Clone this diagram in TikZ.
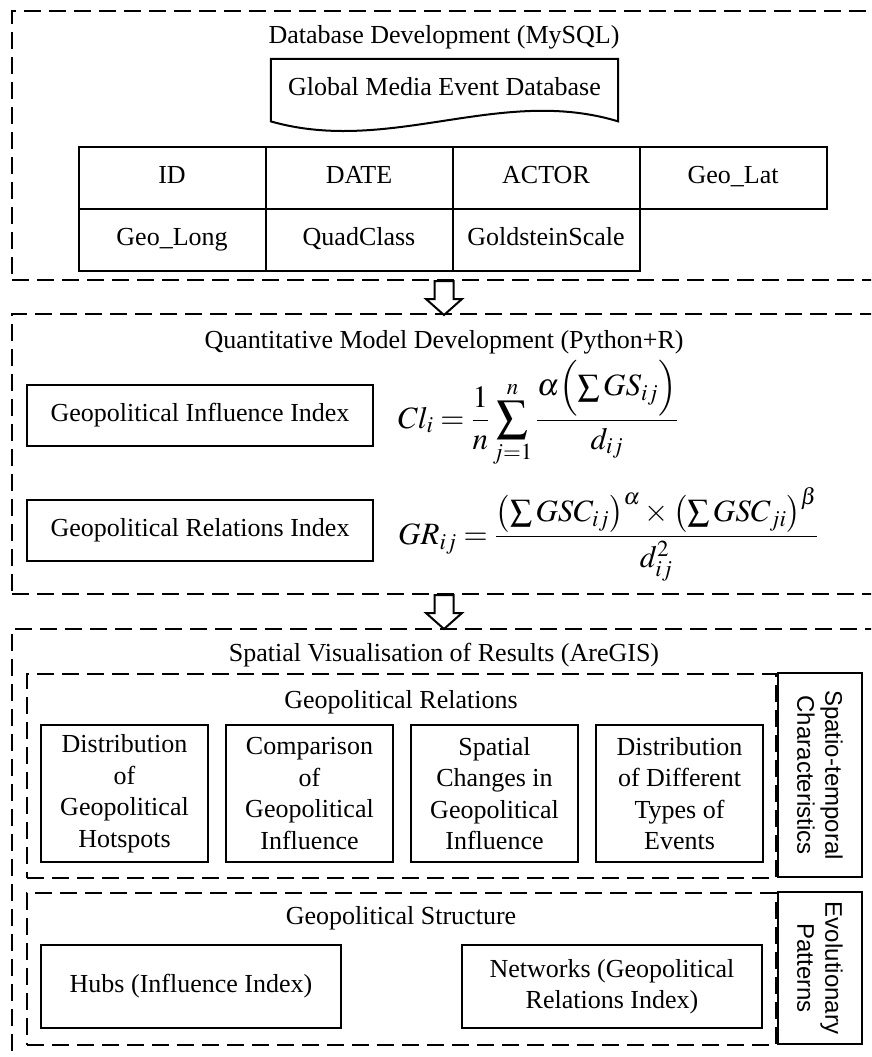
\documentclass[tikz,border=0pt]{standalone}
\usepackage{mathptmx}
\usepackage{fontspec}
\setmainfont{Liberation Serif}
\newfontfamily\sidefont{Liberation Sans}
\usetikzlibrary{matrix,calc}

\tikzset{
  stage/.style={draw, line width=2pt, dash pattern=on 17pt off 8pt, inner sep=0pt,
    anchor=north west, minimum width=930pt},
  group/.style={draw, line width=2pt, dash pattern=on 17pt off 8pt, inner sep=0pt,
    anchor=north west, minimum width=749pt},
  heading/.style={inner sep=0pt},
  box/.style={draw, line width=2pt, inner sep=0pt, align=center, anchor=north west},
  sidebox/.style={draw, line width=2pt, inner sep=0pt, align=center, rotate=-90,
    minimum height=84pt, font=\sidefont\fontsize{24}{28}\selectfont},
  eq/.style={anchor=west, inner sep=0pt, font=\fontsize{31}{37}\selectfont},
  blockarrow/.style={draw, line width=2pt, fill=white, line join=miter},
}

\begin{document}
\begin{tikzpicture}[x=1pt, y=-1pt, font=\fontsize{26}{31.5}\selectfont]
\useasboundingbox (0,0) rectangle (871,1057);
\clip (0,0) rectangle (871,1057);

% stage 1: database
\node[stage, minimum height=269pt] (db) at (11,10) {};
\node[heading] (dbtitle) at (444,37) {Database Development (MySQL)};
\node[minimum width=347pt, minimum height=62pt, anchor=north] (gmed) at (444.5,59) {};
\node[heading] at (444.5,87) {Global Media Event Database};
\draw[line width=2pt] (gmed.north west) -- (gmed.north east) -- (gmed.south east)
  .. controls ($(gmed.south)+(55.5,-36)$) and ($(gmed.south)+(-54.5,34)$) .. (gmed.south west) -- cycle;
\matrix[matrix of nodes, anchor=north west, column sep=-2pt, row sep=-2pt,
  nodes={draw, line width=2pt, minimum width=187pt, minimum height=62pt, anchor=center,
    text height=18pt, text depth=6pt}] (fields) at (74,142)
{
  ID & DATE & ACTOR & Geo\_Lat\\
  Geo\_Long & QuadClass & GoldsteinScale & \\
};

% stage 2: models
\node[stage, minimum height=280pt] (qm) at (11,313) {};
\node[heading] (qmtitle) at (444,342) {Quantitative Model Development (Python+R)};
\node[box, minimum width=346pt, minimum height=61pt] (cibox) at (26,384) {Geopolitical Influence Index};
\node[box, minimum width=346pt, minimum height=61pt] (grbox) at (26,499) {Geopolitical Relations Index};
\node[eq] (cieq) at (398,414)
  {$\displaystyle Cl_i=\frac{1}{n}\sum_{j=1}^{n}\frac{\alpha\Bigl(\sum GS_{ij}\Bigr)}{d_{ij}}$};
\node[eq] (greq) at (398,534)
  {$\displaystyle GR_{ij}=\frac{\bigl(\sum GSC_{ij}\bigr)^{\alpha}\times\bigl(\sum GSC_{ji}\bigr)^{\beta}}{d_{ij}^{2}}$};

% stage 3: visualisation
\node[stage, minimum height=460pt] (sv) at (11,628) {};
\node[heading] (svtitle) at (444,655) {Spatial Visualisation of Results (AreGIS)};

\node[group, minimum height=204pt] (rel) at (26,673) {};
\node[heading] (reltitle) at (401,702) {Geopolitical Relations};
\foreach \txt [count=\i] in {{Distribution\\of\\Geopolitical\\Hotspots},
    {Comparison\\of\\Geopolitical\\Influence},
    {Spatial\\Changes in\\Geopolitical\\Influence},
    {Distribution\\of Different\\Types of\\Events}}
  \node[box, minimum width=167pt, minimum height=137pt] (rel\i) at ({40+185*(\i-1)},724) {\txt};
\node[sidebox, minimum width=204pt] (stc) at (820,775) {Spatio-temporal\\Characteristics};

\node[group, minimum height=152pt] (str) at (26,892) {};
\node[heading] (strtitle) at (401,918) {Geopolitical Structure};
\node[box, minimum width=300pt, minimum height=83pt] (hubs) at (40,944) {Hubs (Influence Index)};
\node[box, minimum width=300pt, minimum height=83pt] (nets) at (461,944) {Networks (Geopolitical\\Relations Index)};
\node[sidebox, minimum width=152pt] (evo) at (820,968) {Evolutionary\\Patterns};

% block arrows between the stages
\coordinate (a1) at (dbtitle |- db.south);
\coordinate (a2) at (qmtitle |- qm.south);
\foreach \a in {a1,a2}
  \draw[blockarrow] ($(\a)+(-9.5,0)$) -- ++(0,18) -- ++(-8.5,0) -- ++(18,16) -- ++(18,-16)
    -- ++(-8.5,0) -- ++(0,-18) -- cycle;
\end{tikzpicture}
\end{document}
